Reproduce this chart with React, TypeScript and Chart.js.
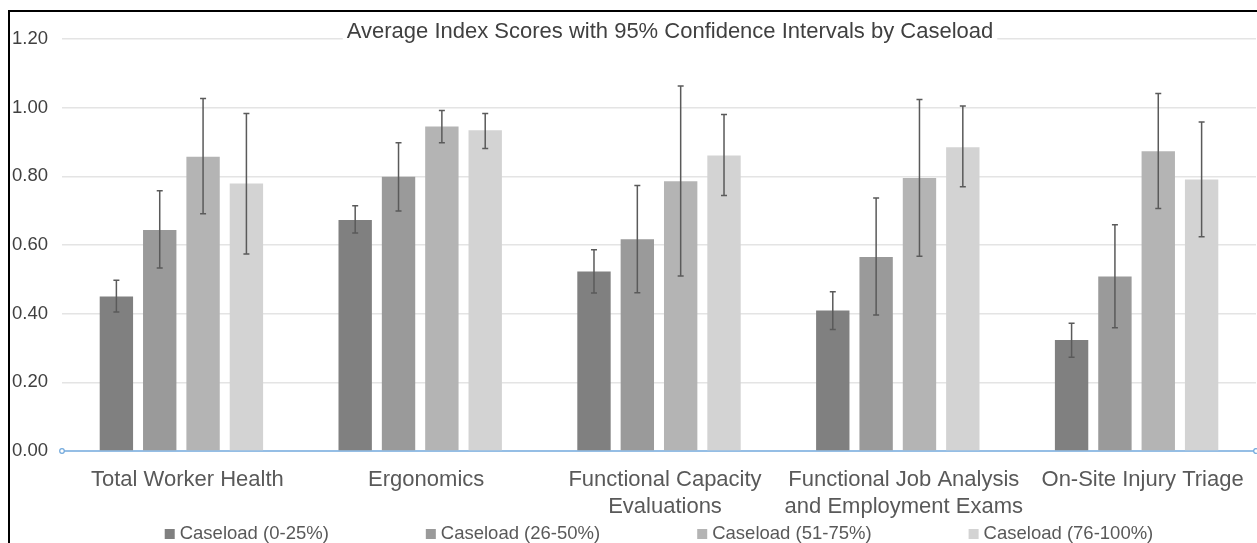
import React, { useEffect, useRef } from "react";
import { Chart, registerables } from "chart.js";

Chart.register(...registerables);

const categories: (string | string[])[] = [
  "Total Worker Health",
  "Ergonomics",
  ["Functional Capacity", "Evaluations"],
  ["Functional Job Analysis", "and Employment Exams"],
  "On-Site Injury Triage",
];

const seriesNames = [
  "Caseload (0-25%)",
  "Caseload (26-50%)",
  "Caseload (51-75%)",
  "Caseload (76-100%)",
];

const caseload0to25 = [0.45, 0.673, 0.523, 0.409, 0.323];
const caseload0to25Low = [0.405, 0.635, 0.46, 0.354, 0.273];
const caseload0to25High = [0.497, 0.714, 0.586, 0.464, 0.372];

const caseload26to50 = [0.644, 0.799, 0.617, 0.565, 0.508];
const caseload26to50Low = [0.533, 0.699, 0.461, 0.396, 0.359];
const caseload26to50High = [0.758, 0.898, 0.773, 0.737, 0.659];

const caseload51to75 = [0.857, 0.945, 0.786, 0.795, 0.873];
const caseload51to75Low = [0.691, 0.898, 0.51, 0.567, 0.706];
const caseload51to75High = [1.027, 0.992, 1.063, 1.024, 1.041];

const caseload76to100 = [0.779, 0.934, 0.861, 0.885, 0.791];
const caseload76to100Low = [0.574, 0.881, 0.744, 0.77, 0.624];
const caseload76to100High = [0.983, 0.983, 0.98, 1.005, 0.958];

const yTicks = [0, 0.2, 0.4, 0.6, 0.8, 1.0, 1.2];

const titleText = "Average Index Scores with 95% Confidence Intervals by Caseload";

const seriesValues = [caseload0to25, caseload26to50, caseload51to75, caseload76to100];
const seriesLow = [caseload0to25Low, caseload26to50Low, caseload51to75Low, caseload76to100Low];
const seriesHigh = [caseload0to25High, caseload26to50High, caseload51to75High, caseload76to100High];
const seriesColors = ["#808080", "#9a9a9a", "#b4b4b4", "#d3d3d3"];

const FONT = '"Liberation Sans", Arial, Helvetica, sans-serif';

const errorBarPlugin = {
  id: "errorBars",
  afterDatasetsDraw(chart: any) {
    const ctx = chart.ctx;
    const y = chart.scales.y;
    ctx.save();
    ctx.strokeStyle = "#5a5a5a";
    ctx.lineWidth = 1.5;
    chart.data.datasets.forEach((_ds: any, i: number) => {
      const meta = chart.getDatasetMeta(i);
      meta.data.forEach((el: any, j: number) => {
        const x = el.x;
        const yl = y.getPixelForValue(seriesLow[i][j]);
        const yh = y.getPixelForValue(seriesHigh[i][j]);
        ctx.beginPath();
        ctx.moveTo(x, yl);
        ctx.lineTo(x, yh);
        ctx.moveTo(x - 3, yl);
        ctx.lineTo(x + 3, yl);
        ctx.moveTo(x - 3, yh);
        ctx.lineTo(x + 3, yh);
        ctx.stroke();
      });
    });
    ctx.restore();
  },
};

const decorPlugin = {
  id: "decor",
  beforeDatasetsDraw(chart: any) {
    const ctx = chart.ctx;
    const area = chart.chartArea;
    const y0 = chart.scales.y.getPixelForValue(0);
    ctx.save();
    ctx.strokeStyle = "#72a9dc";
    ctx.lineWidth = 1.5;
    ctx.beginPath();
    ctx.moveTo(area.left, y0);
    ctx.lineTo(area.right, y0);
    ctx.stroke();
    ctx.restore();
  },
  afterDraw(chart: any) {
    const ctx = chart.ctx;
    const area = chart.chartArea;
    const y0 = chart.scales.y.getPixelForValue(0);
    ctx.save();
    // axis end markers
    ctx.strokeStyle = "#72a9dc";
    ctx.fillStyle = "#ffffff";
    ctx.lineWidth = 1.2;
    [area.left, area.right].forEach((x: number) => {
      ctx.beginPath();
      ctx.arc(x, y0, 2.3, 0, Math.PI * 2);
      ctx.fill();
      ctx.stroke();
    });
    // title
    ctx.font = `22px ${FONT}`;
    const w = ctx.measureText(titleText).width;
    const cx = 670;
    const ty = 32;
    ctx.fillStyle = "#ffffff";
    ctx.fillRect(cx - w / 2 - 4, ty - 12, w + 8, 22);
    ctx.fillStyle = "#404040";
    ctx.textAlign = "center";
    ctx.textBaseline = "middle";
    ctx.fillText(titleText, cx, ty);
    // legend
    ctx.font = `18.5px ${FONT}`;
    const box = 10;
    const gap = 5;
    const pad = 97;
    const widths = seriesNames.map((n) => box + gap + ctx.measureText(n).width);
    const total = widths.reduce((a, b) => a + b, 0) + pad * (seriesNames.length - 1);
    let x = (area.left + area.right) / 2 - total / 2;
    const ly = 534;
    ctx.textAlign = "left";
    ctx.textBaseline = "middle";
    seriesNames.forEach((n, i) => {
      ctx.fillStyle = seriesColors[i];
      ctx.fillRect(x, ly - box / 2, box, box);
      ctx.fillStyle = "#595959";
      ctx.fillText(n, x + box + gap, ly);
      x += widths[i] + pad;
    });
    ctx.restore();
  },
};

export default function App() {
  const canvasRef = useRef<HTMLCanvasElement | null>(null);

  useEffect(() => {
    if (!canvasRef.current) return;
    const chart = new Chart(canvasRef.current, {
      type: "bar",
      data: {
        labels: categories as any,
        datasets: seriesNames.map((name, i) => ({
          label: name,
          data: seriesValues[i],
          backgroundColor: seriesColors[i],
          borderWidth: 0,
          barPercentage: 0.77,
          categoryPercentage: 0.726,
        })),
      },
      options: {
        animation: false,
        responsive: true,
        maintainAspectRatio: false,
        layout: { padding: { top: 39, right: 1, left: 0, bottom: 0 } },
        plugins: {
          legend: { display: false },
          title: { display: false },
          tooltip: { enabled: false },
        },
        scales: {
          x: {
            afterFit: (scale: any) => {
              scale.height = 92;
            },
            grid: { display: false, drawTicks: false },
            border: { display: false },
            ticks: {
              padding: 16,
              labelOffset: 6,
              color: "#595959",
              font: { family: FONT, size: 22, lineHeight: 1.2 },
              maxRotation: 0,
              autoSkip: false,
            },
          },
          y: {
            min: 0,
            max: 1.2,
            afterFit: (scale: any) => {
              scale.width = 62;
            },
            afterBuildTicks: (scale: any) => {
              scale.ticks = yTicks.map((v) => ({ value: v }));
            },
            grid: {
              drawTicks: false,
              color: (c: any) => (c.tick && c.tick.value === 0 ? "rgba(0,0,0,0)" : "#e4e4e4"),
              lineWidth: 1.5,
            },
            border: { display: false },
            ticks: {
              padding: 14,
              color: "#404040",
              font: { family: FONT, size: 18.5 },
              callback: (v: any) => Number(v).toFixed(2),
            },
          },
        },
      },
      plugins: [errorBarPlugin, decorPlugin],
    });
    return () => chart.destroy();
  }, []);

  return (
    <>
      <div
        style={{
          position: "fixed",
          left: 0,
          top: 0,
          width: 1257,
          height: 543,
          background: "#ffffff",
        }}
      >
        <canvas ref={canvasRef} />
      </div>
      <div
        style={{
          position: "fixed",
          left: 8,
          top: 10,
          width: 1400,
          height: 700,
          borderLeft: "2.5px solid #000",
          borderTop: "2.5px solid #000",
          pointerEvents: "none",
        }}
      />
    </>
  );
}
